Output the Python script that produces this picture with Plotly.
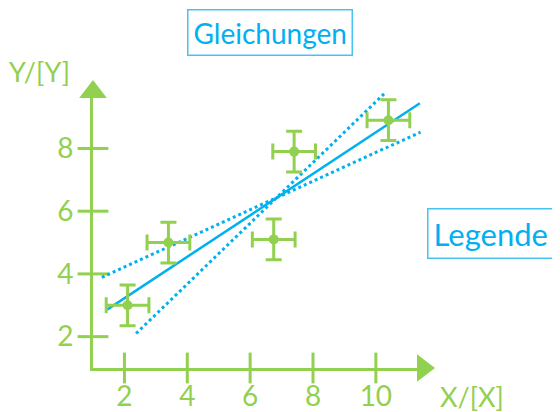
import plotly.graph_objects as go

GREEN = "#92D050"
BLUE = "#00B0F0"
BOX = "#45C4F2"
FONT = "Lato"

# measured points with error bars
x_pts = [2.1, 3.4, 6.75, 7.4, 10.4]
y_pts = [3.0, 5.0, 5.1, 7.9, 8.9]
x_err = [0.68, 0.68, 0.68, 0.68, 0.68]
y_err = [0.65, 0.65, 0.65, 0.65, 0.65]

# best fit and the two limit lines (end points)
fit_x = [1.45, 11.4]
fit_y = [2.86, 9.44]
steep_x = [2.37, 10.26]
steep_y = [2.10, 9.74]
flat_x = [1.28, 11.42]
flat_y = [3.89, 8.52]

x_ticks = [2, 4, 6, 8, 10]
y_ticks = [2, 4, 6, 8]
x_range = [1, 11.5]
y_range = [1, 9.8]

fig = go.Figure()

# hand-made axis ticks crossing the axis lines
fig.add_trace(go.Scatter(
    x=x_ticks, y=[y_range[0]] * len(x_ticks), mode="markers",
    marker=dict(symbol="line-ns", size=22, line=dict(color=GREEN, width=3)),
    cliponaxis=False, hoverinfo="skip", showlegend=False,
))
fig.add_trace(go.Scatter(
    x=[x_range[0]] * len(y_ticks), y=y_ticks, mode="markers",
    marker=dict(symbol="line-ew", size=22, line=dict(color=GREEN, width=3)),
    cliponaxis=False, hoverinfo="skip", showlegend=False,
))
# arrow heads
fig.add_trace(go.Scatter(
    x=[x_range[1]], y=[y_range[0]], mode="markers",
    marker=dict(symbol="triangle-right", size=24, color=GREEN),
    cliponaxis=False, hoverinfo="skip", showlegend=False,
))
fig.add_trace(go.Scatter(
    x=[x_range[0]], y=[y_range[1]], mode="markers",
    marker=dict(symbol="triangle-up", size=24, color=GREEN),
    cliponaxis=False, hoverinfo="skip", showlegend=False,
))

fig.add_trace(go.Scatter(
    x=steep_x, y=steep_y, mode="lines",
    line=dict(color=BLUE, width=3, dash="dot"), showlegend=False,
))
fig.add_trace(go.Scatter(
    x=flat_x, y=flat_y, mode="lines",
    line=dict(color=BLUE, width=3, dash="dot"), showlegend=False,
))
fig.add_trace(go.Scatter(
    x=fit_x, y=fit_y, mode="lines",
    line=dict(color=BLUE, width=2.5), showlegend=False,
))

fig.add_trace(go.Scatter(
    x=x_pts, y=y_pts, mode="markers",
    marker=dict(color=GREEN, size=10),
    error_x=dict(type="data", array=x_err, color=GREEN, thickness=3, width=8),
    error_y=dict(type="data", array=y_err, color=GREEN, thickness=3, width=8),
    cliponaxis=False, showlegend=False,
))

axis_common = dict(
    showgrid=False, zeroline=False, automargin=False,
    showline=True, linecolor=GREEN, linewidth=3,
    ticks="", tickfont=dict(family=FONT, size=28, color=GREEN),
)

# the page body adds an 8px margin, so the figure is 8px smaller each way
fig.update_layout(
    width=552, height=404,
    paper_bgcolor="white", plot_bgcolor="white",
    margin=dict(l=85, r=137, t=84, b=44),
    xaxis=dict(range=x_range, tickvals=x_ticks, ticklabelstandoff=1, **axis_common),
    yaxis=dict(range=y_range, tickvals=y_ticks, ticklabelstandoff=11, **axis_common),
    annotations=[
        dict(text="Gleichungen", xref="paper", yref="paper", x=0.535, y=1.214,
             xanchor="center", yanchor="middle", showarrow=False,
             font=dict(family=FONT, size=28, color=BLUE),
             bordercolor=BOX, borderwidth=1.5, borderpad=5),
        dict(text="Legende", xref="paper", yref="paper", x=1.205, y=0.486,
             xanchor="center", yanchor="middle", showarrow=False,
             font=dict(family=FONT, size=31, color=BLUE),
             bordercolor=BOX, borderwidth=1.5, borderpad=5),
        dict(text="Y/[Y]", xref="paper", yref="paper", x=-0.162, y=1.074,
             xanchor="center", yanchor="middle", showarrow=False,
             font=dict(family=FONT, size=27, color=GREEN)),
        dict(text="X/[X]", xref="paper", yref="paper", x=1.15, y=-0.102,
             xanchor="center", yanchor="middle", showarrow=False,
             font=dict(family=FONT, size=27, color=GREEN)),
    ],
)

fig.write_html("out.html")
